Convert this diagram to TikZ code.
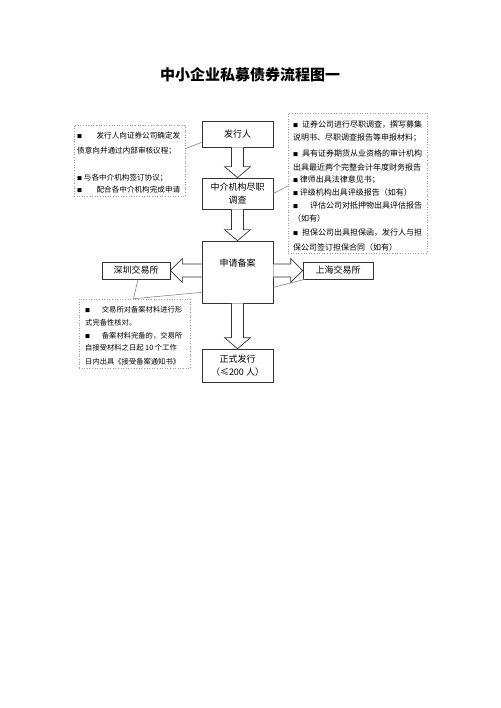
\documentclass[tikz,border=0pt]{standalone}
\usepackage{fontspec}
\setmainfont{Noto Sans CJK SC}
\usetikzlibrary{calc}
\newcommand{\bul}{{\fontsize{5}{5}\selectfont ■}}
\newcommand{\varrowblk}[2]{\draw[blk] ($(#1)+(-6,0)$) -- ($(#2)+(-6,-11)$) -- ($(#2)+(-13,-11)$) -- (#2) -- ($(#2)+(13,-11)$) -- ($(#2)+(6,-11)$) -- ($(#1)+(6,0)$);}
\newcommand{\harrowblk}[3]{\draw[blk] ($(#1)+(0,-6.5)$) -- ($(#2)+(#3,-6.5)$) -- ($(#2)+(#3,-12)$) -- (#2) -- ($(#2)+(#3,12)$) -- ($(#2)+(#3,6.5)$) -- ($(#1)+(0,6.5)$);}
\begin{document}
\begin{tikzpicture}[x=1pt,y=-1pt,
  box/.style={draw=black!80, line width=0.7pt, fill=white, inner sep=0pt, font=\fontsize{9}{13}\selectfont, align=center},
  note/.style={draw=black!40, dotted, line width=0.6pt, inner sep=0pt},
  con/.style={draw=black!55, line width=0.5pt},
  blk/.style={draw=black!80, line width=0.7pt, fill=white, line join=miter},
  lnA/.style={anchor=west, inner sep=0pt, font=\fontsize{7.6}{9}\selectfont},
  lnB/.style={anchor=west, inner sep=0pt, font=\fontsize{8}{9}\selectfont},
  lnC/.style={anchor=west, inner sep=0pt, font=\fontsize{7.3}{9}\selectfont}
]
\useasboundingbox (0,0) rectangle (500,708);
\node[font=\fontsize{15}{18}\selectfont\bfseries] (title) at (250,75) {中小企业私募债券流程图一};

% note boxes
\node[note, minimum width=111pt, minimum height=71pt] (lb) at (129.5,160.5) {};
\node[note, minimum width=139pt, minimum height=140pt] (rb) at (357.5,183) {};
\node[note, minimum width=111pt, minimum height=69pt] (bb) at (134.5,333.5) {};

% main boxes
\node[box, minimum width=71pt, minimum height=26pt] (fx) at (237.5,134) {发行人};
\node[box, minimum width=71pt, minimum height=31pt] (zj) at (237.5,193.5) {中介机构尽职\\调查};
\node[box, minimum width=71pt, minimum height=62pt] (sq) at (237.5,272) {};
\node[inner sep=0pt, font=\fontsize{9}{13}\selectfont] (sqt) at (237.5,263) {申请备案};
\node[box, minimum width=71pt, minimum height=33pt] (fs) at (237.5,365.5) {正式发行\\（≤200 人）};
\node[box, minimum width=68pt, minimum height=17pt] (sz) at (136,270.5) {深圳交易所};
\node[box, minimum width=70pt, minimum height=17pt] (sh) at (338,270.5) {上海交易所};

% connectors
\draw[con] ($(lb.north east)+(0,24)$) -- ($(fx.south west)+(0,-5)$);
\draw[con] (zj.east) -- ($(rb.west)+(0,3)$);
\coordinate (jn) at ($(bb.north)+(-1,0)$);
\draw[con] ($(sz.south)+(2,0)$) -- (jn);
\draw[con] ($(sq.south west)+(0,-11)$) -- (jn);
\draw[con] ($(sq.south east)+(0,-16)$) -- ($(sh.south west)+(2,0)$);

% block arrows
\varrowblk{fx.south}{zj.north}
\varrowblk{zj.south}{sq.north}
\varrowblk{sq.south}{fs.north}
\coordinate (sqL) at (sq.west |- sz.east);
\coordinate (sqR) at (sq.east |- sh.west);
\harrowblk{sqL}{sz.east}{12}
\harrowblk{sqR}{sh.west}{-12}

% left note text
\node[lnA] (a1) at (77,136) {\makebox[103pt]{\bul\hfill 发行人向证券公司确定发}};
\node[lnA] (a2) at (77,151) {债意向并通过内部审核议程；};
\node[lnA] (a3) at (77,178) {\bul\ 与各中介机构签订协议；};
\node[lnA] (a4) at (77,190) {\makebox[103pt]{\bul\hfill 配合各中介机构完成申请}};

% right note text
\node[lnB] (b1) at (293,125) {\makebox[129pt]{\bul\hfill 证券公司进行尽职调查，撰写募集}};
\node[lnB] (b2) at (293,138) {说明书、尽职调查报告等申报材料；};
\node[lnB] (b3) at (293,153) {\makebox[129pt]{\bul\hfill 具有证券期货从业资格的审计机构}};
\node[lnB] (b4) at (293,167) {出具最近两个完整会计年度财务报告};
\node[lnB] (b5) at (293,180) {\bul\ 律师出具法律意见书；};
\node[lnB] (b6) at (293,192) {\bul\ 评级机构出具评级报告（如有）};
\node[lnB] (b7) at (293,205) {\makebox[129pt]{\bul\hfill 评估公司对抵押物出具评估报告}};
\node[lnB] (b8) at (293,218) {（如有）};
\node[lnB] (b9) at (293,233) {\makebox[129pt]{\bul\hfill 担保公司出具担保函，发行人与担}};
\node[lnB] (b10) at (293,247) {保公司签订担保合同（如有）};

% bottom note text
\node[lnC] (c1) at (85,310) {\makebox[97pt]{\bul\hfill 交易所对备案材料进行形}};
\node[lnC] (c2) at (85,323) {式完备性核对。};
\node[lnC] (c3) at (85,336) {\makebox[97pt]{\bul\hfill 备案材料完备的，交易所}};
\node[lnC] (c4) at (85,348) {自接受材料之日起 10 个工作};
\node[lnC] (c5) at (85,362) {日内出具《接受备案通知书》};
\end{tikzpicture}
\end{document}
